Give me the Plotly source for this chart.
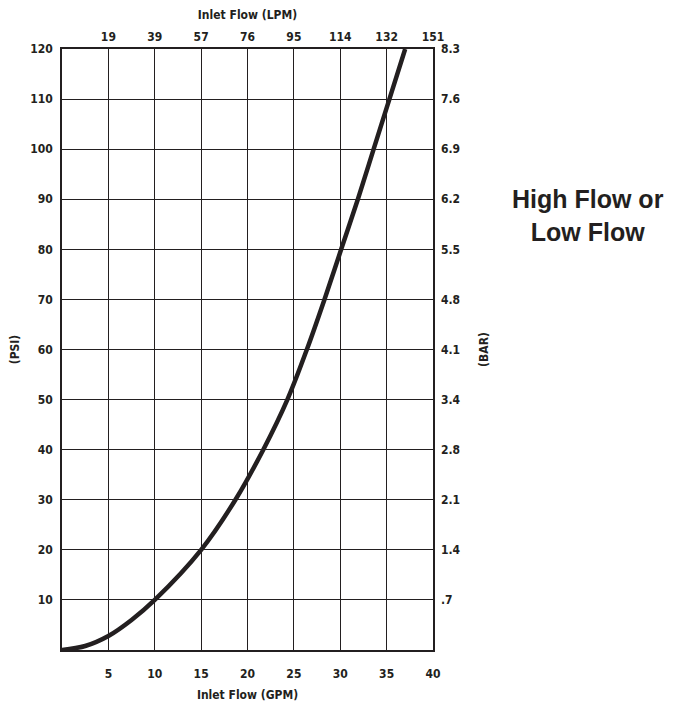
import plotly.graph_objects as go

# Curve data
gpm = [0, 2.5, 5, 7.5, 10, 15.0, 18.7, 21.7, 24.3, 26.4, 28.3, 30.1, 31.9, 33.6, 35.3, 37.0]
psi = [0, 0.8, 2.8, 6.0, 10, 20, 30, 40, 50, 60, 70, 80, 90, 100, 110, 120]

# Axis ticks
gpm_ticks = [5, 10, 15, 20, 25, 30, 35, 40]
lpm_labels = ["19", "39", "57", "76", "95", "114", "132", "151"]
psi_ticks = [10, 20, 30, 40, 50, 60, 70, 80, 90, 100, 110, 120]
bar_labels = [".7", "1.4", "2.1", "2.8", "3.4", "4.1", "4.8", "5.5", "6.2", "6.9", "7.6", "8.3"]

FONT = "DejaVu Sans Condensed, Liberation Sans Narrow, Arial Narrow, sans-serif"
tickfont = dict(family=FONT, size=12, color="#231f20", weight="bold")

fig = go.Figure()
fig.add_trace(go.Scatter(x=gpm, y=psi, mode="lines",
                         line=dict(color="#231f20", width=4.5, shape="spline", smoothing=1.0),
                         showlegend=False, hoverinfo="skip"))
# invisible trace for secondary axes
fig.add_trace(go.Scatter(x=[0, 40], y=[0, 120], xaxis="x2", yaxis="y2", mode="markers",
                         marker=dict(opacity=0), showlegend=False, hoverinfo="skip"))

grid = dict(showgrid=True, gridcolor="#231f20", gridwidth=1, zeroline=False,
            showline=True, linecolor="#231f20", linewidth=1.5, ticks="", automargin=False)

# page has an 8px body margin; compensate so the plot area lands where the reference has it
W, H = 675, 699
pl, pr, pt, pb = 54, 250, 41, 57
pw, ph = W - pl - pr, H - pt - pb

fig.update_layout(
    width=W, height=H,
    margin=dict(l=pl, r=pr, t=pt, b=pb),
    plot_bgcolor="white", paper_bgcolor="white",
    xaxis=dict(range=[0, 40], tickvals=gpm_ticks, tickfont=tickfont, mirror=True,
               ticklabelstandoff=12,
               title=dict(text="Inlet Flow (GPM)", font=tickfont, standoff=10), **grid),
    yaxis=dict(range=[0, 120], tickvals=psi_ticks, tickfont=tickfont, mirror=True,
               ticklabelstandoff=5,
               title=dict(text="(PSI)", font=tickfont, standoff=12), **grid),
    xaxis2=dict(range=[0, 40], tickvals=gpm_ticks, ticktext=lpm_labels, overlaying="x", side="top",
                tickfont=tickfont, showgrid=False, zeroline=False, showline=False, automargin=False,
                ticklabelstandoff=5,
                title=dict(text="Inlet Flow (LPM)", font=tickfont, standoff=8)),
    yaxis2=dict(range=[0, 120], tickvals=psi_ticks, ticktext=bar_labels, overlaying="y", side="right",
                tickfont=tickfont, showgrid=False, zeroline=False, showline=False, automargin=False,
                ticklabelstandoff=7,
                title=dict(text="(BAR)", font=tickfont, standoff=19)),
    annotations=[dict(text="<b>High Flow or<br>Low Flow</b>",
                      x=(588 - 8 - pl) / pw, y=(H - pb - (216 - 8)) / ph,
                      xref="paper", yref="paper", xanchor="center", yanchor="middle",
                      showarrow=False,
                      font=dict(family="Liberation Sans, Arial, sans-serif", size=25, color="#231f20"),
                      align="center")],
)

fig.write_html("out.html")
